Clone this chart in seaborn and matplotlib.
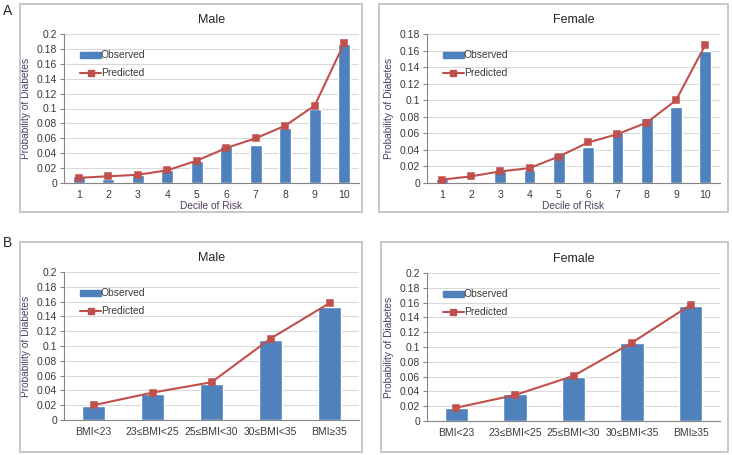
import matplotlib
matplotlib.use("Agg")
import matplotlib.pyplot as plt
import matplotlib.patches as mpatches
import matplotlib.lines as mlines
import seaborn as sns
import pandas as pd

# --- data ---
deciles = ["1", "2", "3", "4", "5", "6", "7", "8", "9", "10"]
male_decile_obs = [0.009, 0.006, 0.011, 0.018, 0.029, 0.049, 0.051, 0.074, 0.100, 0.187]
male_decile_pred = [0.007, 0.009, 0.011, 0.017, 0.030, 0.047, 0.060, 0.077, 0.104, 0.188]
female_decile_obs = [0.005, 0.0, 0.015, 0.016, 0.036, 0.043, 0.063, 0.079, 0.092, 0.159]
female_decile_pred = [0.004, 0.008, 0.014, 0.018, 0.032, 0.049, 0.059, 0.073, 0.100, 0.167]

bmi_groups = ["BMI<23", "23≤BMI<25", "25≤BMI<30", "30≤BMI<35", "BMI≥35"]
male_bmi_obs = [0.019, 0.035, 0.049, 0.108, 0.153]
male_bmi_pred = [0.020, 0.037, 0.051, 0.110, 0.158]
female_bmi_obs = [0.017, 0.036, 0.060, 0.105, 0.156]
female_bmi_pred = [0.018, 0.035, 0.061, 0.106, 0.157]

BAR = "#4f81bd"
LINE = "#c0504d"
TICK_C = "#3a3a3a"
LAB_C = "#4e3d62"

sns.set_style("white")
plt.rcParams["font.family"] = ["Liberation Sans", "DejaVu Sans"]

W, H = 732, 455
fig = plt.figure(figsize=(W / 100, H / 100), dpi=100)


def px_axes(left, top, right, bottom):
    return fig.add_axes([left / W, 1 - bottom / H, (right - left) / W, (bottom - top) / H])


def box(left, top, right, bottom):
    fig.patches.append(mpatches.Rectangle((left / W, 1 - bottom / H), (right - left) / W,
                                          (bottom - top) / H, transform=fig.transFigure,
                                          fill=False, edgecolor="#bfbfbf", lw=1.2))


def panel(ax, cats, obs, pred, title, ymax, xlabel, legend_y):
    df = pd.DataFrame({"cat": cats, "obs": obs, "pred": pred})
    sns.barplot(data=df, x="cat", y="obs", color=BAR, saturation=1, width=0.4, ax=ax, zorder=2)
    sns.pointplot(data=df, x="cat", y="pred", color=LINE, markers="s", ax=ax,
                  markersize=4.5, linewidth=1.5, zorder=3)
    ax.set_ylim(0, ymax)
    ax.set_xlim(-0.5, len(cats) - 0.5)
    ticks = [i * 0.02 for i in range(int(round(ymax / 0.02)) + 1)]
    ax.set_yticks(ticks)
    ax.set_yticklabels([f"{round(t, 2):g}" for t in ticks])
    ax.yaxis.grid(True, color="#d9d9d9", lw=0.8, zorder=0)
    ax.set_axisbelow(True)
    for s in ["top", "right"]:
        ax.spines[s].set_visible(False)
    for s in ["left", "bottom"]:
        ax.spines[s].set_color("#868686")
        ax.spines[s].set_linewidth(0.8)
    ax.tick_params(axis="y", left=True, length=3, width=0.8, color="#868686",
                   labelsize=7.5, labelcolor=TICK_C, pad=2)
    ax.tick_params(axis="x", bottom=False, length=0, labelsize=7.5, labelcolor=TICK_C, pad=5)
    ax.set_ylabel("Probability of Diabetes", fontsize=7.3, color=LAB_C, labelpad=4)
    ax.set_xlabel(xlabel, fontsize=7.3, color=LAB_C, labelpad=0.5)
    ax.set_title(title, fontsize=9, color="#262626", pad=8)
    handles = [mpatches.Patch(color=BAR),
               mlines.Line2D([], [], color=LINE, marker="s", markersize=4.5, lw=1.5)]
    ax.legend(handles, ["Observed", "Predicted"], loc="upper left",
              bbox_to_anchor=(0.055, legend_y), frameon=False, fontsize=7.4,
              borderpad=0, borderaxespad=0, handlelength=2.0, handleheight=0.5,
              handletextpad=0.0, labelspacing=0.75, labelcolor="#3a3a3a")


# panel frames
box(20, 4, 362, 212)
box(379, 4, 728, 212)
box(20, 242, 362, 452)
box(381, 242, 728, 452)

ax1 = px_axes(64, 34, 359, 183)
panel(ax1, deciles, male_decile_obs, male_decile_pred, "Male", 0.2, "Decile of Risk", 0.89)
ax2 = px_axes(427, 34, 720, 183)
panel(ax2, deciles, female_decile_obs, female_decile_pred, "Female", 0.18, "Decile of Risk", 0.89)
ax3 = px_axes(64, 272, 359, 420)
panel(ax3, bmi_groups, male_bmi_obs, male_bmi_pred, "Male", 0.2, "", 0.89)
ax4 = px_axes(427, 273, 720, 421)
panel(ax4, bmi_groups, female_bmi_obs, female_bmi_pred, "Female", 0.2, "", 0.89)

fig.text(8 / W, 1 - 11 / H, "A", fontsize=10, color="#262626", va="center", ha="center")
fig.text(8 / W, 1 - 243 / H, "B", fontsize=10, color="#262626", va="center", ha="center")

fig.savefig("out.png", dpi=100)
